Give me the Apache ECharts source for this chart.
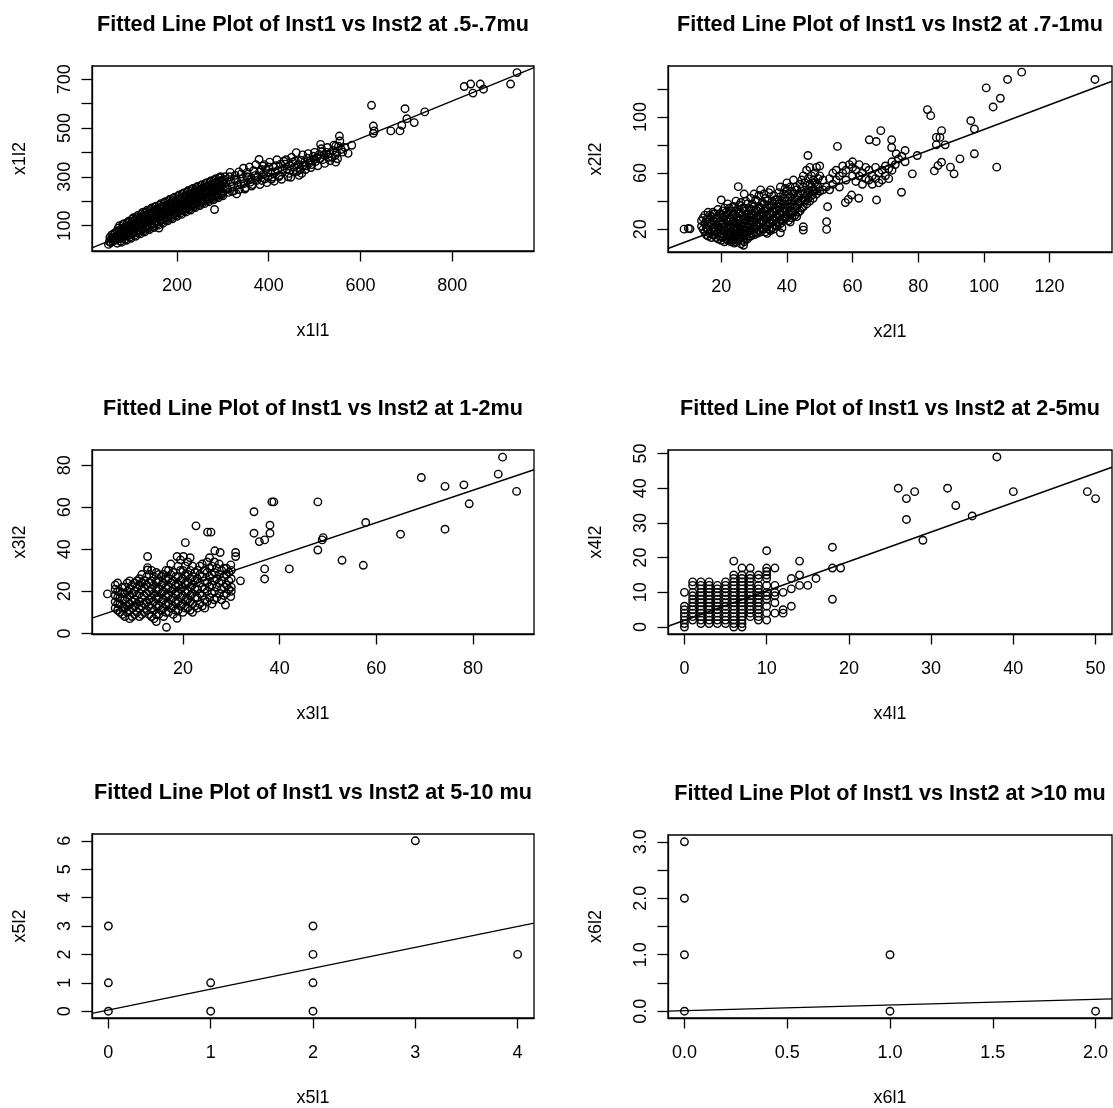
<!DOCTYPE html>
<html><head><meta charset="utf-8">
<script src="https://cdn.jsdelivr.net/npm/echarts@6/dist/echarts.min.js"></script>
<style>html,body{margin:0;padding:0;background:#fff}#c{width:1113px;height:1108px}</style>
</head><body><div id="c"></div><script>
// ---------- text ----------
const titles = [
  'Fitted Line Plot of Inst1 vs Inst2 at .5-.7mu',
  'Fitted Line Plot of Inst1 vs Inst2 at .7-1mu',
  'Fitted Line Plot of Inst1 vs Inst2 at 1-2mu',
  'Fitted Line Plot of Inst1 vs Inst2 at 2-5mu',
  'Fitted Line Plot of Inst1 vs Inst2 at 5-10 mu',
  'Fitted Line Plot of Inst1 vs Inst2 at >10 mu'
];
const xNames = ['x1l1','x2l1','x3l1','x4l1','x5l1','x6l1'];
const yNames = ['x1l2','x2l2','x3l2','x4l2','x5l2','x6l2'];

// ---------- data (x, y) ----------
const p1 = [[51,23],[53,35],[54,52],[56,30],[57,45],[58,62],[60,36],[61,50],[62,66],[64,40],[65,55],[66,72],[68,42],[69,58],[70,76],[72,46],[73,62],[74,80],[74,52],[76,48],[77,66],[78,84],[78,58],[80,52],[81,70],[82,88],[82,62],[84,55],[85,73],[86,92],[86,66],[88,58],[89,77],[90,96],[90,70],[92,60],[93,81],[94,100],[94,74],[96,62],[97,85],[98,104],[98,78],
[100,64],[101,82],[102,100],[103,118],[105,68],[106,87],[107,104],[108,121],[110,72],[111,91],[112,108],[113,126],[115,76],[116,95],[117,112],[118,131],[120,81],[121,99],[122,117],[123,135],[125,85],[126,104],[127,121],[128,140],[130,90],[131,108],[132,126],[133,144],[135,94],[136,113],[137,130],[138,148],[140,99],[141,117],[142,135],[143,153],[145,103],[146,122],[147,139],[148,157],[150,108],[151,126],[152,144],[153,162],[155,112],[156,131],[157,148],[158,166],[160,117],[161,90],[162,135],[163,153],[164,171],[165,121],[166,140],[167,157],[168,175],[170,126],[171,144],[172,162],[173,180],[175,130],[176,149],[177,166],[178,184],[180,135],[181,153],[182,171],[183,189],[185,139],[186,158],[187,175],[188,193],[190,144],[191,162],[192,180],[193,198],[195,148],[196,167],[197,184],[198,202],
[200,153],[201,171],[202,189],[203,207],[205,157],[206,176],[207,193],[208,211],[210,162],[211,180],[212,198],[213,216],[215,166],[216,185],[217,202],[218,220],[220,171],[221,189],[222,207],[223,225],[225,175],[226,194],[227,211],[228,229],[230,180],[231,198],[232,216],[233,234],[235,184],[236,203],[237,220],[238,238],[240,188],[241,207],[242,224],[243,242],[245,192],[246,211],[247,228],[248,246],[250,196],[251,215],[252,232],[253,250],[255,200],[256,219],[257,236],[258,254],[260,204],[261,223],[262,240],[263,258],[265,208],[266,227],[267,244],[268,262],[270,212],[271,231],[272,248],[273,266],[275,216],[276,235],[277,252],[278,270],[280,220],[281,239],[282,166],[283,256],[284,274],[285,224],[286,243],[287,260],[288,278],[290,228],[291,247],[292,264],[293,282],[295,231],[296,250],[297,267],[298,285],[300,235],[301,254],[302,271],[303,289],
[70,28],[75,100],[80,32],[85,108],[90,40],[95,118],[100,48],[105,132],[110,56],[115,142],[120,66],[125,154],[130,74],[135,163],[140,84],[145,172],[150,92],[155,180],[160,102],[165,190],[170,110],[175,198],[180,120],[185,208],[190,128],[195,216],[200,138],[205,226],[210,146],[215,234],[220,156],[225,244],[230,164],[235,252],[240,174],[245,260],[250,182],[255,268],[260,190],[265,276],[270,198],[275,284],[280,206],[285,292],[290,214],[295,300],[300,222],
[72,90],[77,36],[82,104],[87,44],[92,112],[97,52],[102,126],[107,60],[112,136],[117,70],[122,146],[127,78],[132,156],[137,88],[142,166],[147,96],[152,176],[157,106],[162,184],[167,114],[172,194],[177,124],[182,202],[187,132],[192,212],[197,142],[202,220],[207,150],[212,230],[217,160],[222,238],[227,168],[232,248],[237,178],[242,256],[247,186],[252,264],[257,194],[262,272],[267,202],[272,280],[277,210],[282,288],[287,218],[292,296],[297,226],
[306,276],[309,256],[312,236],[315,300],[318,280],[321,260],[324,242],[327,306],[330,286],[333,266],[336,248],[340,312],[343,292],[346,272],[350,255],[353,318],[356,298],[360,278],[363,262],[367,325],[370,305],[374,285],[379,371],[381,268],[384,330],[387,344],[388,310],[392,292],[396,276],[400,340],[404,318],[408,298],[412,282],[416,346],[420,326],[424,306],[428,290],[433,364],[436,352],[440,332],[444,314],[448,298],[452,360],[456,340],[460,399],[462,322],[466,306],[470,368],[472,314],[475,348],[480,330],[484,376],[488,356],[492,338],[497,384],[499,371],[502,362],[507,345],[510,392],[513,433],[515,415],[518,370],[522,355],[526,400],[530,380],[534,366],[540,408],[545,388],[546,426],[546,360],[550,374],[554,467],[555,447],[558,412],[561,401],[566,420],[573,396],[581,429],
[305,300],[310,250],[316,318],[320,240],[325,290],[330,230],[335,320],[340,270],[345,335],[348,250],[352,300],[358,340],[362,290],[365,268],[372,350],[376,300],[380,320],[385,285],[390,350],[394,330],[398,300],[402,360],[406,290],[410,340],[414,318],[418,370],[422,300],[426,352],[430,330],[438,370],[442,300],[446,345],[450,380],[454,320],[458,365],[464,350],[468,330],[474,390],[478,360],[482,345],[486,395],[490,365],[494,350],[500,400],[505,380],[512,375],[516,402],[520,390],[528,420],[532,395],[538,380],[542,430],[548,398],[552,425],
[624,593],[628,508],[630,488],[628,478],[666,488],[686,488],[690,511],[697,579],[701,538],[717,522],[740,566],[826,670],[840,680],[845,643],[861,680],[868,659],[927,680],[941,727]];

const p2 = [[14,22],[14,26],[15,18],[15,24],[15,30],[16,15],[16,20],[16,27],[16,32],[17,14],[17,19],[17,23],[17,29],[18,16],[18,21],[18,25],[18,31],[19,13],[19,18],[19,22],[19,28],[19,34],[20,12],[20,17],[20,21],[20,26],[20,30],[20,40.8],
[21,11],[21,15],[21,19],[21,24],[21,29],[21,35],[22,12],[22,16],[22,20],[22,25],[22,31],[22,38],[23,11],[23,14],[23,18],[23,22],[23,27],[23,33],[24,10],[24,13],[24,17],[24,21],[24,26],[24,30],[24,36],[25,12],[25,16],[25,20],[25,24],[25,28],[25,34],[25.2,50.3],[26,9.5],[26,14],[26,18],[26,22],[26,27],[26,32],[26,39],[26.8,8.5],[27,11],[27,15],[27,19],[27,24],[27,29],[27,35],[27,45],[28,13],[28,17],[28,21],[28,26],[28,31],[28,38],[29,15],[29,19],[29,23],[29,28],[29,34],[29,42],[30,16],[30,20],[30,25],[30,30],[30,36],[30,45],
[31,17],[31,22],[31,27],[31,33],[31,40],[32,18],[32,24],[32,29],[32,35],[32,48],[33,20],[33,26],[33,31],[33,38],[33,45],[34,17],[34,22],[34,28],[34,33],[34,40],[35,19],[35,24],[35,30],[35,36],[35,48],[36,20],[36,26],[36,32],[36,38],[36,44],[37,22],[37,28],[37,34],[37,41],[38,17.4],[38,24],[38,30],[38,36],[38,43],[38,50],[39,26],[39,32],[39,38],[39,45],[40,28],[40,34],[40,40],[40,47],[40,53],
[41,25],[41,30],[41,36],[41,43],[41,50],[42,32],[42,38],[42,45],[42,55],[43,29],[43,35],[43,41],[43,48],[44,33],[44,39],[44,45],[44,52],[45,21.7],[45,19.3],[45,36],[45,42],[45,50],[45,58],[46,38],[46,44],[46,62],[46.4,72.5],[47,40],[47,46],[47,52],[47,64],[48,42],[48,48],[48,55],[49,45],[49,52],[49,64],[50,47],[50,58],[50,65],
[14.5,20],[14.5,28],[15.5,16],[15.5,21],[15.5,27],[16.5,17],[16.5,24],[16.5,30],[17.5,16],[17.5,21],[17.5,26],[17.5,32],[18.5,14],[18.5,19],[18.5,23],[18.5,28],[19.5,15],[19.5,20],[19.5,25],[19.5,31],[20.5,14],[20.5,19],[20.5,24],[20.5,28],[20.5,33],[21.5,13],[21.5,17],[21.5,22],[21.5,27],[21.5,32],[22.5,13],[22.5,18],[22.5,23],[22.5,28],[22.5,35],[23.5,12],[23.5,16],[23.5,20],[23.5,25],[23.5,30],[23.5,36],[24.5,11],[24.5,15],[24.5,19],[24.5,24],[24.5,28],[24.5,33],[24.5,40],[25.5,13],[25.5,18],[25.5,22],[25.5,26],[25.5,31],[25.5,37],[26.5,12],[26.5,16],[26.5,20],[26.5,25],[26.5,30],[26.5,35],[27.5,13],[27.5,17],[27.5,22],[27.5,27],[27.5,33],[27.5,40],[28.5,15],[28.5,19],[28.5,24],[28.5,29],[28.5,35],[29.5,17],[29.5,21],[29.5,26],[29.5,31],[29.5,38],[30.5,18],[30.5,23],[30.5,28],[30.5,34],[30.5,41],[31.5,19],[31.5,25],[31.5,30],[31.5,36],[31.5,44],[32.5,20],[32.5,26],[32.5,32],[32.5,39],[33.5,18],[33.5,23],[33.5,29],[33.5,35],[33.5,42],[34.5,20],[34.5,25],[34.5,31],[34.5,37],[34.5,46],[35.5,21],[35.5,27],[35.5,33],[35.5,40],[36.5,23],[36.5,29],[36.5,35],[36.5,41],[37.5,25],[37.5,31],[37.5,38],[37.5,46],[38.5,21],[38.5,27],[38.5,33],[38.5,40],[39.5,29],[39.5,35],[39.5,42],[39.5,49],[40.5,26],[40.5,32],[40.5,38],[40.5,45],[41.5,28],[41.5,33],[41.5,40],[41.5,47],[42.5,30],[42.5,36],[42.5,42],[42.5,50],[43.5,32],[43.5,38],[43.5,44],[44.5,35],[44.5,41],[44.5,47],[44.5,55],[45.5,40],[45.5,46],[45.5,53],[46.5,42],[46.5,48],[46.5,56],[47.5,44],[47.5,50],[47.5,58],[48.5,47],[48.5,53],[48.5,60],[49.5,50],[49.5,56],
[51,48],[51,55],[52,50],[52.4,36],[52.1,25.3],[52.1,19.8],[53,56],[53,48],[54,52],[54,60],[55,55],[55,62],[55.4,79],[56,50],[56,58],[57,60],[57,65],[57.8,38.9],[58.7,41.2],[58,55],[58,62],[59.7,44.3],[59,66],[60,58],[60,64],[60,68],[61,54],[61,62],[61.9,42],[62,58],[62,66],[63,52],[63,60],[64,56],[64,64],[65,55],[65,62],[65.1,83.7],[66,52],[66,58],[67,56],[67,64],[67.2,82.5],[67.3,40.8],[68,53],[68,60],[68.6,90.2],[69,55],[69,62],[70,58],[70,65],[71,56],[71,63],[71.9,83.7],[71.9,78.2],[72,62],[72,68],[73.3,73.7],[73,66],[74,70],[74.9,46.3],[75,72],[76,76.1],[76,68],[78.2,59.4],[79.7,72.5],
[82.8,105.2],[83.8,100.9],[84.9,61.5],[85.5,85.4],[85.5,80.1],[86.6,85.4],[86,65.3],[87.1,67.7],[87.1,90.2],[88.2,80.1],[89.8,64.2],[90.9,59.4],[92.7,70.1],[96,97.3],[97.1,91.4],[97.1,73.7],[100.7,120.7],[102.8,107.1],[103.9,64.2],[105,113.3],[107.2,126.7],[111.5,131.9],[133.8,126.7],[10,20.5],[8.7,20],[10.5,20.2]];

const p3 = [[4.4,18.8],[6,12],[6,15],[6,18],[6,21],[6,23],[7,10],[7,14],[7,17],[7,20],[8,8],[8,12],[8,16],[8,19],[8,22],[9,7],[9,11],[9,14],[9,18],[9,21],[9,25],[10,9],[10,13],[10,16],[10,20],[10,24],[11,8],[11,12],[11,15],[11,19],[11,23],[11,26],[12,10],[12,14],[12,18],[12,22],[12,25],[12.7,36.6],[12.7,31.3],[12.7,30.2],[13,9],[13,13],[13,16],[13,20],[13,24],[13,28],[14,7],[14,11],[14,15],[14,19],[14,23],[14,27],[14.5,5.6],[15,9],[15,13],[15,17],[15,21],[15,25],[15,28],[16,8],[16,12],[16,16],[16,20],[16,24],[16,28],[16.6,2.9],[17,10],[17,14],[17,18],[17,22],[17,26],[17,30],[18,9],[18,13],[18,17],[18,21],[18,25],[18,29],[18.8,7.2],[18.8,36.6],[19,11],[19,15],[19,19],[19,23],[19,27],[19,32],[20,10],[20,14],[20,18],[20,22],[20,26],[20,30],[20.1,36.6],[20.5,43.2],[21,12],[21,16],[21,20],[21,24],[21,28],[21,34],[22,10],[22,14],[22,19],[22,23],[22,27],[22,32],[22.7,51.2],[23,12],[23,17],[23,21],[23,26],[23,30],[24,13],[24,18],[24,22],[24,27],[24,33],[25,15],[25,20],[25,24],[25,29],[25,34],[25.1,48.2],[25.8,48.2],[26,14],[26,19],[26,23],[26,28],[26,32],[26.6,39.3],[27,17],[27,22],[27,26],[27,31],[27.7,38.5],[28,16],[28,21],[28,25],[28,30],[28.8,13.5],[29,19],[29,23],[29,28],[29,31],[29.9,17.5],[29.9,32.6],[30,20],[30,22],[30,26],[30,30],[30.9,38.5],[30.9,36.6],[31.9,25],
[6.5,11],[6.5,14],[6.5,17],[6.5,20],[6.5,24],[7.5,9],[7.5,12],[7.5,16],[7.5,19],[7.5,22],[8.5,10],[8.5,13],[8.5,17],[8.5,20],[8.5,24],[9.5,8],[9.5,12],[9.5,15],[9.5,19],[9.5,23],[10.5,10],[10.5,14],[10.5,18],[10.5,22],[10.5,25],[11.5,9],[11.5,13],[11.5,17],[11.5,21],[11.5,24],[11.5,28],[12.5,11],[12.5,15],[12.5,19],[12.5,23],[12.5,27],[13.5,8],[13.5,12],[13.5,17],[13.5,21],[13.5,25],[13.5,30],[14.5,9],[14.5,13],[14.5,17],[14.5,21],[14.5,25],[14.5,29],[15.5,11],[15.5,15],[15.5,19],[15.5,23],[15.5,27],[16.5,10],[16.5,14],[16.5,18],[16.5,22],[16.5,26],[16.5,30],[17.5,12],[17.5,16],[17.5,20],[17.5,24],[17.5,28],[17.5,33],[18.5,11],[18.5,15],[18.5,19],[18.5,23],[18.5,27],[19.5,13],[19.5,17],[19.5,21],[19.5,25],[19.5,30],[19.5,35],[20.5,12],[20.5,16],[20.5,20],[20.5,24],[20.5,28],[20.5,32],[21.5,11],[21.5,15],[21.5,18],[21.5,22],[21.5,26],[21.5,30],[21.5,36],[22.5,13],[22.5,17],[22.5,21],[22.5,25],[22.5,29],[23.5,14],[23.5,19],[23.5,24],[23.5,28],[23.5,32],[24.5,12],[24.5,16],[24.5,21],[24.5,25],[24.5,30],[25.5,17],[25.5,22],[25.5,27],[25.5,31],[25.5,36],[26.5,16],[26.5,20],[26.5,25],[26.5,29],[26.5,34],[27.5,19],[27.5,24],[27.5,28],[27.5,33],[28.5,18],[28.5,22],[28.5,27],[28.5,31],[29.5,21],[29.5,25],[29.5,29],
[34.7,57.9],[34.7,47.7],[35.8,43.7],[36.9,44.5],[36.9,30.7],[36.9,25.9],[38,51.5],[38,47.7],[38.4,62.6],[38.8,62.6],[42,30.7],[47.9,62.6],[47.9,39.7],[48.8,44.5],[49,45.6],[52.9,34.8],[57.3,32.4],[57.8,52.8],[65,47.2],[69.3,74.2],[74.2,70],[74.2,49.6],[78.1,70.7],[79.2,61.7],[85.2,75.8],[86.1,83.9],[89,67.6]];

// panel 4: integer readings, listed as [x, [y values at that x]]
const p4Columns = [[0,[0,1,2,3,4,5,6,10]],[1,[2,3,4,5,6,7,8,9,10,12,13]],[2,[1,2,3,4,5,6,7,8,9,10,11,12,13]],[3,[1,2,3,4,5,6,7,8,9,10,11,12,13]],[4,[1,2,3,4,5,6,7,8,9,10,11,12]],[5,[1,2,3,4,5,6,7,8,9,10,11,12,13]],[6,[0,1,2,3,4,5,6,7,8,9,10,11,12,13,14,15,19]],[7,[0,1,2,3,4,5,6,7,8,9,10,11,12,13,14,15,17]],[8,[3,4,5,6,7,8,9,10,11,12,13,14,15,17]],[9,[2,3,4,5,6,7,8,9,10,11,12,14,15]],[10,[2,4,6,8,9,10,12,14,15,16,17,22]],[11,[4,7,9,10,12,17]],[12,[4,5,10]],[13,[6,11,14]],[14,[12,15,19]],[15,[12]],[16,[14]],[18,[8,17,23]],[19,[17]],[26,[40]],[27,[31,37]],[28,[39]],[29,[25]],[32,[40]],[33,[35]],[35,[32]],[38,[49]],[40,[39]],[49,[39]],[50,[37]]];
const p4 = [];
p4Columns.forEach(c => c[1].forEach(y => p4.push([c[0], y])));

const p5 = [[0,0],[0,1],[0,3],[1,0],[1,1],[2,0],[2,1],[2,2],[2,3],[3,6],[4,2]];
const p6 = [[0,0],[0,1],[0,2],[0,3],[1,0],[1,1],[2,0]];
const panels = [p1, p2, p3, p4, p5, p6];

// fitted lines (intercept, slope)
const fitIntercept = [-3, 2.85, 6.3, 1.93, 0.04, 0.01];
const fitSlope = [0.767, 0.882, 0.773, 0.848, 0.736, 0.10];

// ticks and labels
const xTicks = [[200,400,600,800],[20,40,60,80,100,120],[20,40,60,80],[0,10,20,30,40,50],[0,1,2,3,4],[0,0.5,1,1.5,2]];
const xTickLabels = xTicks;
const yTicks = [[100,200,300,400,500,600,700],[20,40,60,80,100,120],[0,20,40,60,80],[0,10,20,30,40,50],[0,1,2,3,4,5,6],[0,0.5,1,1.5,2,2.5,3]];
const yTickLabels = [[100,300,500,700],[20,60,100],[0,20,40,60,80],[0,10,20,30,40,50],[0,1,2,3,4,5,6],[0,1,2,3]];
const labelDecimals = [0,0,0,0,0,1];

// axis limits (R style 4% padding)
const xLim = [[15,978],[3.8,139],[1.2,92.6],[-2,52],[-0.16,4.16],[-0.08,2.08]];
const yLim = [[-4,754],[3.7,136.3],[-0.3,87.3],[-2,51],[-0.24,6.24],[-0.12,3.12]];

// ---------- layout ----------
const gridRects = [[92,66,442,185],[668,66,444,186],[92,450,442,184],[668,450,444,184],[92,834,442,184],[668,835,444,183]];
const FONT = '"Liberation Sans", Arial, Helvetica, sans-serif';
const INK = '#000';

const grids = [], xAxes = [], yAxes = [], series = [], titleList = [];
gridRects.forEach((r, i) => {
  grids.push({left: r[0], top: r[1], width: r[2], height: r[3], show: true, borderColor: INK, borderWidth: 1.3, backgroundColor: 'transparent', containLabel: false, outerBoundsMode: 'none'});
  const fmt = v => Number(v).toFixed(labelDecimals[i]);
  xAxes.push({
    type: 'value', gridIndex: i, min: xLim[i][0], max: xLim[i][1],
    name: xNames[i], nameLocation: 'middle', nameGap: 71,
    nameTextStyle: {fontFamily: FONT, fontSize: 18, color: INK},
    axisLine: {show: true, onZero: false, lineStyle: {color: INK, width: 1.3}},
    axisTick: {show: true, length: 10.5, inside: false, customValues: xTicks[i], lineStyle: {color: INK, width: 1.3}},
    axisLabel: {show: true, customValues: xTickLabels[i], formatter: fmt, margin: 26, fontFamily: FONT, fontSize: 18, color: INK},
    splitLine: {show: false}
  });
  yAxes.push({
    type: 'value', gridIndex: i, min: yLim[i][0], max: yLim[i][1],
    name: yNames[i], nameLocation: 'middle', nameGap: 63,
    nameTextStyle: {fontFamily: FONT, fontSize: 18, color: INK},
    axisLine: {show: true, onZero: false, lineStyle: {color: INK, width: 1.3}},
    axisTick: {show: true, length: 10.5, inside: false, customValues: yTicks[i], lineStyle: {color: INK, width: 1.3}},
    axisLabel: {show: true, customValues: yTickLabels[i], formatter: fmt, rotate: 90, margin: 18, fontFamily: FONT, fontSize: 18, color: INK},
    splitLine: {show: false}
  });
  series.push({
    type: 'scatter', xAxisIndex: i, yAxisIndex: i, data: panels[i],
    symbol: 'circle', symbolSize: 7.5, silent: true,
    itemStyle: {color: 'rgba(0,0,0,0)', borderColor: INK, borderWidth: 1.4, opacity: 1}
  });
  const x0 = xLim[i][0], x1 = xLim[i][1];
  series.push({
    type: 'line', xAxisIndex: i, yAxisIndex: i, silent: true, clip: true, z: 5,
    data: [[x0, fitIntercept[i] + fitSlope[i] * x0], [x1, fitIntercept[i] + fitSlope[i] * x1]],
    symbol: 'none', lineStyle: {color: INK, width: 1.4}
  });
  titleList.push({
    text: titles[i], left: r[0] + r[2] / 2, top: r[1] - 52, textAlign: 'center', padding: 0,
    textStyle: {fontFamily: FONT, fontSize: 21.6, fontWeight: 'bold', color: INK}
  });
});

const chart = echarts.init(document.getElementById('c'), null, {renderer: 'canvas'});
chart.setOption({
  animation: false, backgroundColor: '#fff',
  title: titleList, grid: grids, xAxis: xAxes, yAxis: yAxes, series: series
});
</script></body></html>
